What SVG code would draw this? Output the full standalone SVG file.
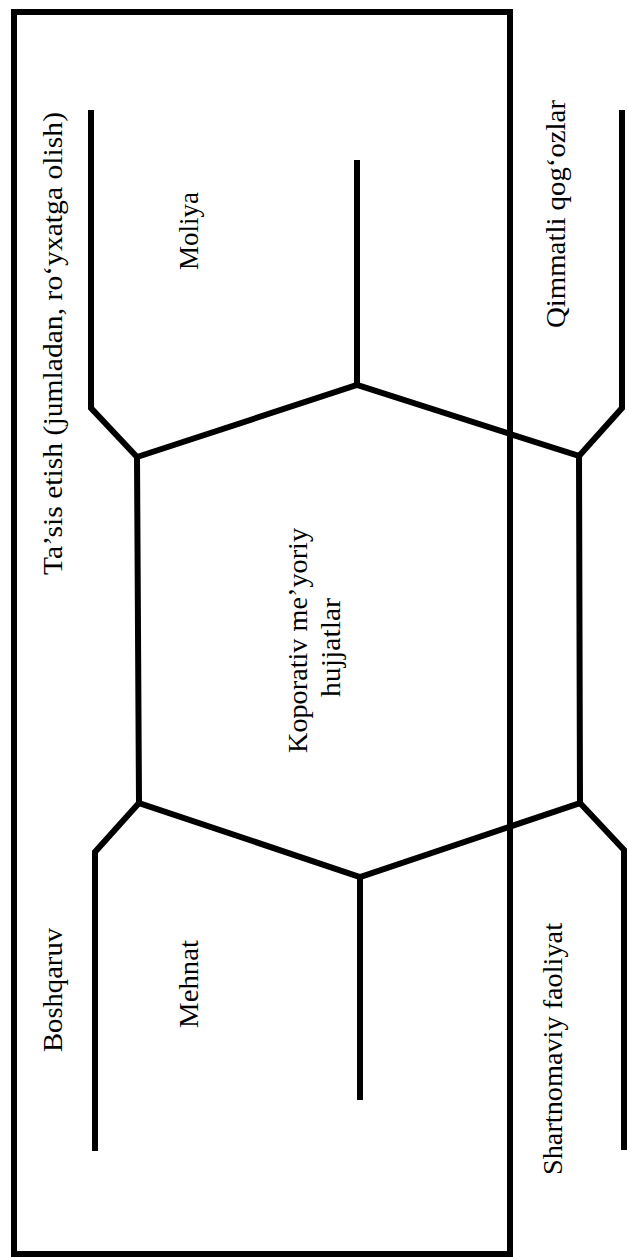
<svg xmlns="http://www.w3.org/2000/svg" width="627" height="1257" viewBox="0 0 627 1257">
<style>
.ln{fill:none;stroke:#000;stroke-width:6;stroke-linejoin:miter;stroke-linecap:butt}
.fr{fill:none;stroke:#000;stroke-width:6}
.t{font-family:"Liberation Serif","Times New Roman",serif;font-size:28px;fill:#000;text-anchor:middle}
</style>
<rect width="627" height="1257" fill="#fff"/>
<g id="frame">
<rect class="fr" x="14" y="12" width="496" height="1242"/>
</g>
<g id="connectors">
<polyline class="ln" points="91,110 91,408 137,457"/>
<polyline class="ln" points="357,160 357,385"/>
<polyline class="ln" points="622,110 622,408 579,456"/>
<polyline class="ln" points="95,1151 95,852 139,803"/>
<polyline class="ln" points="360,1100 360,877"/>
<polyline class="ln" points="624,1150 624,850 580,803"/>
</g>
<g id="hexagon">
<polygon class="ln" points="137,457 357,385 579,456 580,803 360,877 139,803"/>
<text class="t" transform="translate(307,640.5) rotate(-90)" textLength="225" lengthAdjust="spacingAndGlyphs">Koporativ me’yoriy</text>
<text class="t" transform="translate(340,647.5) rotate(-90)" textLength="99" lengthAdjust="spacingAndGlyphs">hujjatlar</text>
</g>
<g id="tasis"><text class="t" transform="translate(62,343.5) rotate(-90)" textLength="463" lengthAdjust="spacingAndGlyphs">Ta’sis etish (jumladan, ro‘yxatga olish)</text></g>
<g id="moliya"><text class="t" transform="translate(198,231) rotate(-90)" textLength="78" lengthAdjust="spacingAndGlyphs">Moliya</text></g>
<g id="qimmatli"><text class="t" transform="translate(565,214) rotate(-90)" textLength="228" lengthAdjust="spacingAndGlyphs">Qimmatli qog‘ozlar</text></g>
<g id="boshqaruv"><text class="t" transform="translate(62,990) rotate(-90)" textLength="124" lengthAdjust="spacingAndGlyphs">Boshqaruv</text></g>
<g id="mehnat"><text class="t" transform="translate(198,984) rotate(-90)" textLength="88" lengthAdjust="spacingAndGlyphs">Mehnat</text></g>
<g id="shartnomaviy"><text class="t" transform="translate(562,1049) rotate(-90)" textLength="252" lengthAdjust="spacingAndGlyphs">Shartnomaviy faoliyat</text></g>
</svg>
